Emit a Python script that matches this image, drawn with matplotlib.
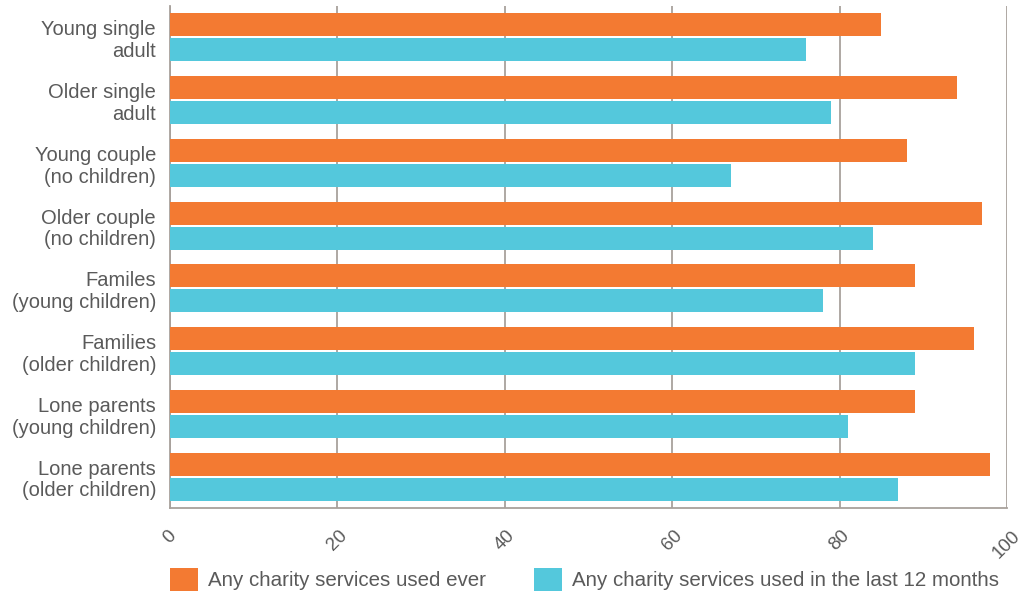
import numpy as np
import matplotlib
matplotlib.use("Agg")
import matplotlib.pyplot as plt

plt.rcParams["font.family"] = ["Liberation Sans", "DejaVu Sans"]

categories = [
    "Young single\nadult",
    "Older single\nadult",
    "Young couple\n(no children)",
    "Older couple\n(no children)",
    "Familes\n(young children)",
    "Families\n(older children)",
    "Lone parents\n(young children)",
    "Lone parents\n(older children)",
]
used_ever = [85, 94, 88, 97, 89, 96, 89, 98]
used_last_12m = [76, 79, 67, 84, 78, 89, 81, 87]
x_ticks = [0, 20, 40, 60, 80, 100]

orange = "#F37A32"
cyan = "#54C8DC"
grey_line = "#A8A19C"
text_col = "#5a5a5a"

fig = plt.figure(figsize=(10.26, 5.95), dpi=100)
ax = fig.add_axes([170 / 1026, 1 - 508 / 595, 837 / 1026, 502 / 595])

y = np.arange(len(categories))
h = 0.365
ax.barh(y - 0.2, used_ever, height=h, color=orange, label="Any charity services used ever", zorder=3)
ax.barh(y + 0.2, used_last_12m, height=h, color=cyan,
        label="Any charity services used in the last 12 months", zorder=3)

ax.set_xlim(0, 100)
ax.set_ylim(len(categories) - 0.5, -0.5)
ax.set_xticks(x_ticks)
ax.set_xticklabels([str(t) for t in x_ticks], rotation=45, fontsize=13.5, color=text_col)
ax.set_yticks(y)
ax.set_yticklabels(categories, fontsize=14.5, color=text_col, linespacing=1.18)
ax.tick_params(axis="x", length=0, pad=14)
ax.tick_params(axis="y", length=0, pad=10)

ax.grid(axis="x", color=grey_line, linewidth=1.3, zorder=0)
for s in ["top", "right"]:
    ax.spines[s].set_visible(False)
for s in ["left", "bottom"]:
    ax.spines[s].set_color(grey_line)
    ax.spines[s].set_linewidth(1.3)

fig.legend(loc="lower left", bbox_to_anchor=(166 / 1026, 0.0), ncol=2, frameon=False,
           fontsize=14.8, handlelength=1.35, handleheight=1.35, handletextpad=0.5,
           columnspacing=2.35, borderpad=0.1, borderaxespad=0.1, labelcolor=text_col)

fig.savefig("out.png", dpi=100)
